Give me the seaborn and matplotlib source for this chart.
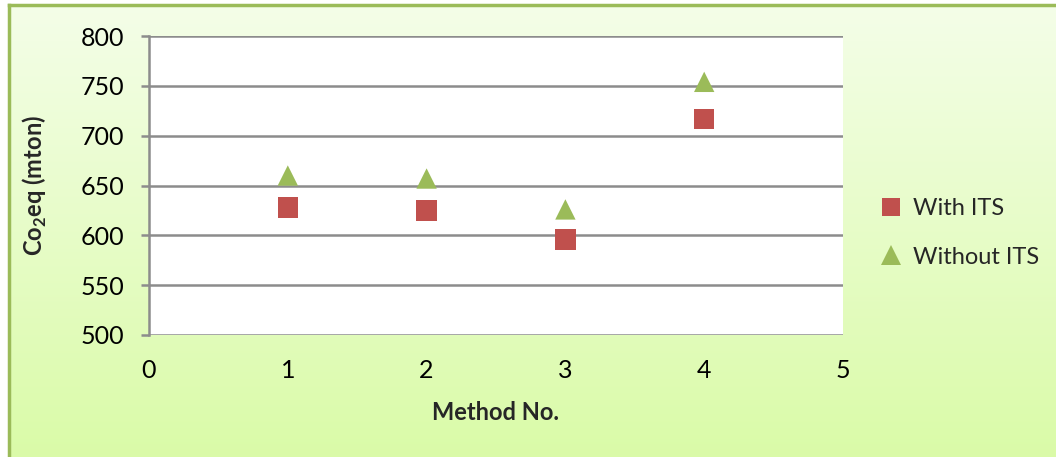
import numpy as np
import pandas as pd
import matplotlib
matplotlib.use("Agg")
import matplotlib.pyplot as plt
import seaborn as sns

# Emissions per method, with and without ITS
methods = [1, 2, 3, 4]
with_its = [628, 625, 596, 717]
without_its = [660, 657, 626, 754]
series_names = ["With ITS", "Without ITS"]
x_ticks = [0, 1, 2, 3, 4, 5]
y_ticks = [500, 550, 600, 650, 700, 750, 800]

df = pd.DataFrame({
    "Method": methods * 2,
    "CO2eq": with_its + without_its,
    "Series": [series_names[0]] * len(methods) + [series_names[1]] * len(methods),
})

sns.set_theme(style="white")
plt.rcParams["font.family"] = ["Lato", "DejaVu Sans"]
plt.rcParams["mathtext.fontset"] = "custom"
plt.rcParams["mathtext.rm"] = "Lato"
plt.rcParams["mathtext.bf"] = "Lato:bold"

W, H = 1056, 457
fig = plt.figure(figsize=(W / 100, H / 100), dpi=100)
fig.patch.set_facecolor("white")

# Gradient chart-area background with green border
bg = fig.add_axes([9 / W, 0, 1 - 9 / W, 1 - 5 / H], zorder=-10)
top = np.array([0.957, 0.996, 0.910])
bot = np.array([0.855, 0.984, 0.659])
t = np.linspace(0, 1, 256)[:, None, None]
grad = top * (1 - t) + bot * t
grad = np.repeat(grad, 2, axis=1)
bg.imshow(grad, aspect="auto", extent=[0, 1, 0, 1], interpolation="bilinear")
bg.set_xticks([])
bg.set_yticks([])
for side in ["right", "bottom"]:
    bg.spines[side].set_visible(False)
for side in ["left", "top"]:
    bg.spines[side].set_color("#9bbb59")
    bg.spines[side].set_linewidth(2.5)

# Plot area
ax = fig.add_axes([149 / W, 1 - 335 / H, (843 - 149) / W, (335 - 36) / H], zorder=1)
ax.set_facecolor("white")

palette = {"With ITS": "#c0504d", "Without ITS": "#9bbb59"}
markers = {"With ITS": "s", "Without ITS": "^"}
sns.scatterplot(data=df, x="Method", y="CO2eq", hue="Series", style="Series",
                palette=palette, markers=markers, s=215, linewidth=0,
                ax=ax, legend=False, zorder=3, clip_on=False)

ax.set_xlim(0, 5)
ax.set_ylim(500, 800)
ax.set_xticks(x_ticks)
ax.set_yticks(y_ticks)
ax.yaxis.grid(True, color="#8c8c8c", linewidth=1.8)
ax.xaxis.grid(False)
ax.set_axisbelow(True)
for side in ["top", "right", "bottom"]:
    ax.spines[side].set_visible(False)
ax.spines["left"].set_color("#8c8c8c")
ax.spines["left"].set_linewidth(1.8)
ax.tick_params(axis="y", which="major", left=True, length=6, width=1.8,
               color="#8c8c8c", pad=12, labelsize=18, labelcolor="black")
ax.tick_params(axis="x", which="major", bottom=False, length=0, pad=17,
               labelsize=18, labelcolor="black")

ax.set_xlabel("Method No.", fontsize=17, fontweight="bold", labelpad=14)
ax.set_ylabel(r"Co$_\mathbf{2}$eq (mton)", fontsize=17, fontweight="bold")
ax.yaxis.set_label_coords(-0.144, 0.5)

handles = [
    plt.Line2D([], [], marker="s", linestyle="none", color=palette["With ITS"],
               markersize=12.5, markeredgewidth=0),
    plt.Line2D([], [], marker="^", linestyle="none", color=palette["Without ITS"],
               markersize=14, markeredgewidth=0),
]
fig.legend(handles, series_names, loc="center left",
           bbox_to_anchor=(880 / W, 1 - 233 / H), frameon=False, fontsize=17,
           handlelength=0.9, handletextpad=0.5, labelspacing=1.15,
           borderpad=0, borderaxespad=0)

fig.savefig("out.png", dpi=100, facecolor=fig.get_facecolor())
